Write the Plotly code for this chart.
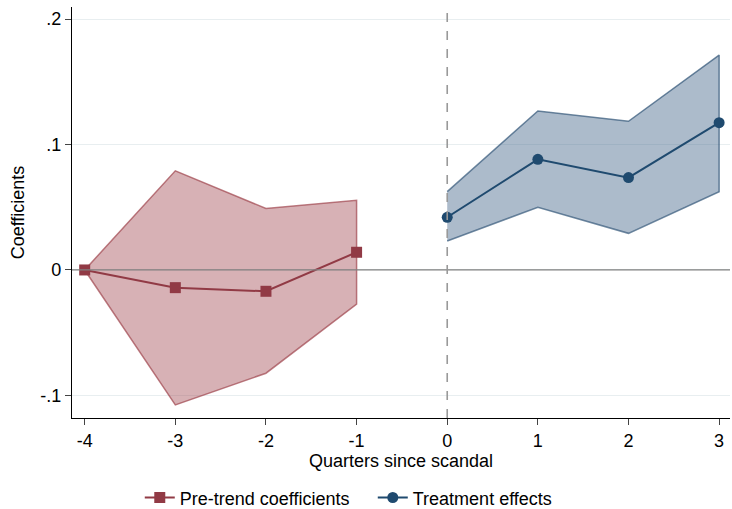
import plotly.graph_objects as go

pre_x = [-4, -3, -2, -1]
pre_coef = [0.0, -0.0141, -0.017, 0.0141]
pre_hi = [0.0, 0.079, 0.049, 0.0555]
pre_lo = [0.0, -0.1076, -0.0823, -0.0273]

post_x = [0, 1, 2, 3]
post_coef = [0.042, 0.0882, 0.0736, 0.1174]
post_hi = [0.0624, 0.1267, 0.1185, 0.1713]
post_lo = [0.0231, 0.05, 0.0292, 0.0624]

x_ticks = [-4, -3, -2, -1, 0, 1, 2, 3]
x_labels = ["-4", "-3", "-2", "-1", "0", "1", "2", "3"]
y_ticks = [-0.1, 0, 0.1, 0.2]
y_labels = ["-.1", "0", ".1", ".2"]

red = "#913a45"
blue = "#1f4a6f"
font = "Liberation Sans Narrow, Arial Narrow, Liberation Sans, sans-serif"
fs = 18
tf = dict(family=font, size=fs, color="black")

fig = go.Figure()
fig.add_trace(go.Scatter(
    x=pre_x + pre_x[::-1], y=pre_hi + pre_lo[::-1], fill="toself",
    fillcolor="rgba(160,70,78,0.42)", line=dict(color="rgba(160,70,78,0.7)", width=1.5),
    mode="lines", showlegend=False, hoverinfo="skip"))
fig.add_trace(go.Scatter(
    x=post_x + post_x[::-1], y=post_hi + post_lo[::-1], fill="toself",
    fillcolor="rgba(70,105,140,0.45)", line=dict(color="rgba(50,85,120,0.7)", width=1.5),
    mode="lines", showlegend=False, hoverinfo="skip"))
fig.add_hline(y=0, line=dict(color="#808080", width=1.3))
fig.add_vline(x=0, line=dict(color="#999999", width=1.6, dash="dash"))
fig.add_trace(go.Scatter(
    x=pre_x, y=pre_coef, mode="lines+markers", name="Pre-trend coefficients",
    line=dict(color=red, width=2), marker=dict(symbol="square", size=11, color=red)))
fig.add_trace(go.Scatter(
    x=post_x, y=post_coef, mode="lines+markers", name="Treatment effects",
    line=dict(color=blue, width=2), marker=dict(symbol="circle", size=11, color=blue)))

fig.update_layout(
    width=732, height=509,
    margin=dict(l=72, r=2, t=7, b=91),
    paper_bgcolor="white", plot_bgcolor="white",
    font=tf,
    showlegend=True,
    legend=dict(orientation="h", x=0.103, xanchor="left", yref="container",
                y=0.022, yanchor="middle",
                font=tf, tracegroupgap=0, entrywidth=188),
    xaxis=dict(range=[-4.14, 3.12], tickvals=x_ticks, ticktext=x_labels,
               ticks="outside", ticklen=6, automargin=False, tickfont=tf,
               showgrid=False, zeroline=False, showline=True, linecolor="black",
               linewidth=1.2, mirror=False,
               title=dict(text="Quarters since scandal", standoff=3, font=tf)),
    yaxis=dict(range=[-0.118, 0.2096], tickvals=y_ticks, ticktext=y_labels,
               ticks="outside", ticklen=6, automargin=False, tickfont=tf,
               showgrid=True, gridcolor="#e8eef0",
               zeroline=False, showline=True, linecolor="black", linewidth=1.2,
               title=dict(text="Coefficients", standoff=10, font=tf)),
)
fig.write_html("out.html", config={"displayModeBar": False},
               post_script="document.body.style.margin='0';")
